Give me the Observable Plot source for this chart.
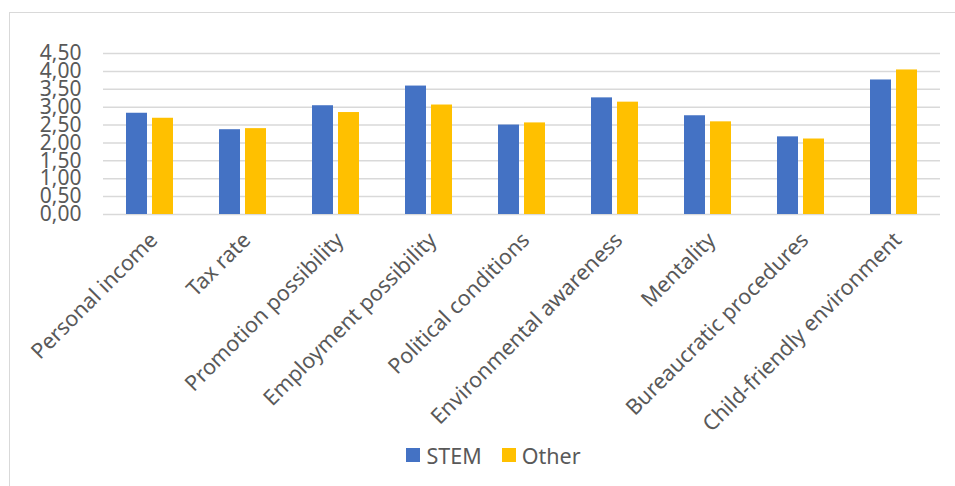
<!DOCTYPE html>
<html>
<head>
<meta charset="utf-8">
<script src="https://cdn.jsdelivr.net/npm/d3@7"></script>
<script src="https://cdn.jsdelivr.net/npm/@observablehq/plot@0.6"></script>
<style>
  html, body { margin: 0; padding: 0; background: #fff; overflow: hidden; }
  body { width: 955px; height: 486px; position: relative; font-family: "Noto Sans", sans-serif; }
  #frame { position: absolute; left: 9px; top: 12px; width: 1000px; height: 600px; border: 1.5px solid #d9d9d9; box-sizing: border-box; }
  #chart { position: absolute; left: 0; top: 0; }
  #legend { position: absolute; left: 16px; top: 439px; width: 955px; height: 32px; display: flex; justify-content: center; align-items: center; gap: 20px; font-size: 21.5px; color: #595959; }
  .item { display: flex; align-items: center; gap: 6px; }
  .sw { width: 14px; height: 14px; display: inline-block; }
</style>
</head>
<body>
<div id="frame"></div>
<div id="chart"></div>
<div id="legend"></div>
<script>
const categories = ["Personal income", "Tax rate", "Promotion possibility", "Employment possibility", "Political conditions", "Environmental awareness", "Mentality", "Bureaucratic procedures", "Child-friendly environment"];
const stem  = [2.83, 2.37, 3.04, 3.59, 2.50, 3.26, 2.76, 2.17, 3.76];
const other = [2.69, 2.40, 2.85, 3.06, 2.56, 3.14, 2.59, 2.11, 4.04];
const seriesNames = ["STEM", "Other"];
const seriesColors = ["#4472C4", "#FFC000"];
const yTicks = [0, 0.5, 1, 1.5, 2, 2.5, 3, 3.5, 4, 4.5];

const rows = [];
categories.forEach((c, i) => {
  rows.push({category: c, series: seriesNames[0], value: stem[i]});
  rows.push({category: c, series: seriesNames[1], value: other[i]});
});

const fmt = d => d.toFixed(2).replace(".", ",");

const plot = Plot.plot({
  width: 955,
  height: 440,
  marginLeft: 102,
  marginRight: 15,
  marginTop: 53,
  marginBottom: 226,
  style: { fontFamily: "Noto Sans", color: "#595959", background: "transparent", overflow: "visible" },
  fx: { domain: categories, padding: 0, axis: null },
  x: { domain: seriesNames, paddingInner: 0.2, paddingOuter: 0.85, axis: null },
  y: { domain: [0, 4.5], axis: null },
  color: { domain: seriesNames, range: seriesColors },
  marks: [
    Plot.ruleY(yTicks, { stroke: "#d9d9d9", strokeWidth: 1.5 }),
    Plot.barY(rows, { fx: "category", x: "series", y: "value", fill: "series" }),
    Plot.axisY({ ticks: yTicks, tickFormat: fmt, tickSize: 0, tickPadding: 22, fontSize: 21, fill: "#595959", label: null }),
    Plot.axisFx({ anchor: "bottom", tickRotate: -45, tickSize: 0, tickPadding: 22, dx: 4, fontSize: 21.5, fill: "#595959", label: null })
  ]
});
document.getElementById("chart").appendChild(plot);

const legend = document.getElementById("legend");
seriesNames.forEach((s, i) => {
  const item = document.createElement("div");
  item.className = "item";
  const sw = document.createElement("span");
  sw.className = "sw";
  sw.style.background = seriesColors[i];
  const t = document.createElement("span");
  t.textContent = s;
  item.appendChild(sw);
  item.appendChild(t);
  legend.appendChild(item);
});
</script>
</body>
</html>
